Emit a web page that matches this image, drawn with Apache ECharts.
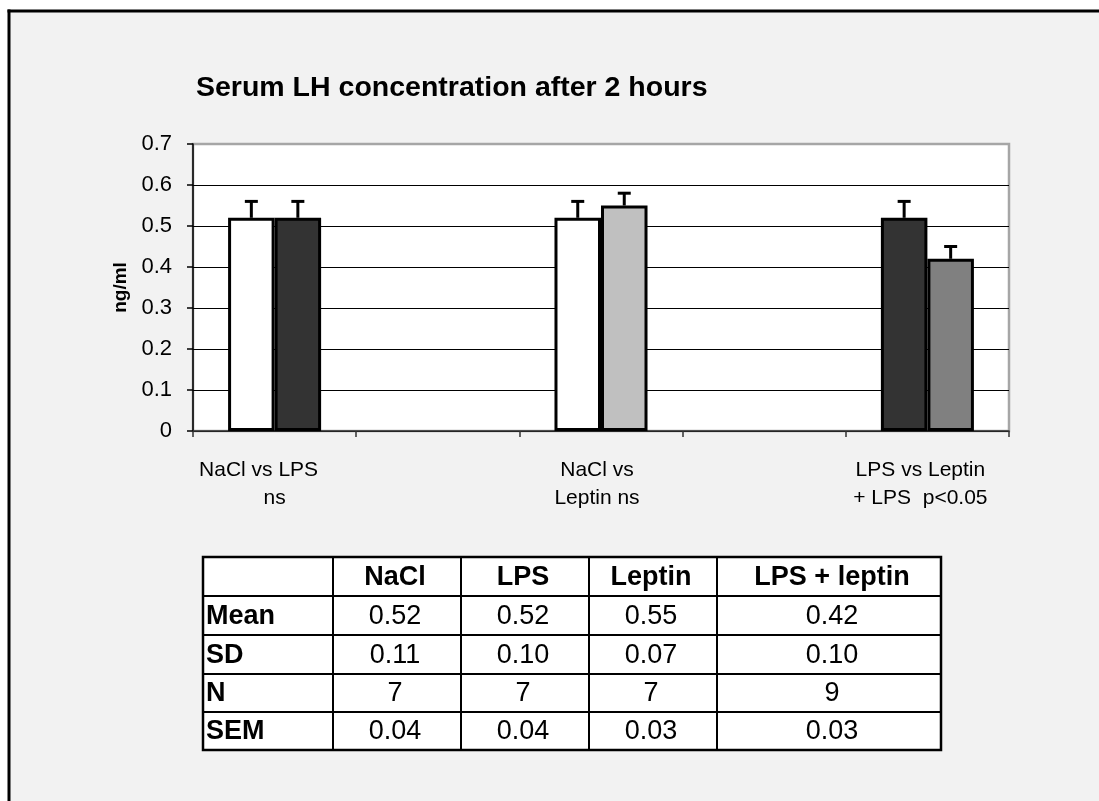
<!DOCTYPE html>
<html>
<head>
<meta charset="utf-8">
<script src="https://cdn.jsdelivr.net/npm/echarts@6/dist/echarts.min.js"></script>
<style>
  html, body { margin: 0; padding: 0; background: #ffffff; overflow: hidden; }
  #chart { width: 1099px; height: 801px; }
</style>
</head>
<body>
<div id="chart"></div>
<script>
// ---- data ----
var titleText = 'Serum LH concentration after 2 hours';
var yAxisName = 'ng/ml';
var categories = ['NaCl vs LPS\nns', '', 'NaCl vs\nLeptin ns', '', 'LPS vs Leptin\n+ LPS  p<0.05'];
var leftMeans  = [0.52, null, 0.52, null, 0.52];
var rightMeans = [0.52, null, 0.55, null, 0.42];
var leftSEM    = [0.04, null, 0.04, null, 0.04];
var rightSEM   = [0.04, null, 0.03, null, 0.03];
var leftColors  = ['#ffffff', null, '#ffffff', null, '#333333'];
var rightColors = ['#333333', null, '#c0c0c0', null, '#808080'];
var yTicks = [0, 0.1, 0.2, 0.3, 0.4, 0.5, 0.6, 0.7];

var tableHeader = ['', 'NaCl', 'LPS', 'Leptin', 'LPS + leptin'];
var tableRowLabels = ['Mean', 'SD', 'N', 'SEM'];
var tableMean = ['0.52', '0.52', '0.55', '0.42'];
var tableSD   = ['0.11', '0.10', '0.07', '0.10'];
var tableN    = ['7', '7', '7', '9'];
var tableSEM  = ['0.04', '0.04', '0.03', '0.03'];
var tableRows = [tableMean, tableSD, tableN, tableSEM];

// ---- layout ----
var FONT = 'Liberation Sans, Arial, sans-serif';
var BAR_W = 0.285;
var colEdges = [203, 333, 461, 589, 717, 941];
var rowEdges = [557, 596, 635, 674, 712, 750];
var colShift = [0, -2, -2, -2, 3];

function barItems(vals, cols) {
  return vals.map(function (v, i) {
    return v == null ? null : { value: v, itemStyle: { color: cols[i] } };
  });
}
function errItems(vals, sems) {
  var out = [];
  vals.forEach(function (v, i) { if (v != null) out.push([i, v, sems[i]]); });
  return out;
}
function errorRender(side) {
  return function (params, api) {
    var idx = api.value(0), m = api.value(1), s = api.value(2);
    var band = api.size([1, 0])[0];
    var off = side * band * BAR_W / 2;
    var p0 = api.coord([idx, m]);
    var p1 = api.coord([idx, m + s]);
    var x = p0[0] + off;
    var st = { stroke: '#000', lineWidth: 3 };
    return {
      type: 'group',
      children: [
        { type: 'line', shape: { x1: x, y1: p0[1], x2: x, y2: p1[1] }, style: st },
        { type: 'line', shape: { x1: x - 6.5, y1: p1[1], x2: x + 6.5, y2: p1[1] }, style: st }
      ]
    };
  };
}

// table graphics
var nCols = colEdges.length - 1, nRows = rowEdges.length - 1;
var tableEls = [];
tableEls.push({ type: 'rect', shape: { x: colEdges[0], y: rowEdges[0], width: colEdges[nCols] - colEdges[0], height: rowEdges[nRows] - rowEdges[0] }, style: { fill: '#fff', stroke: '#000', lineWidth: 2.5 }, z: 10 });
rowEdges.slice(1, -1).forEach(function (y) {
  tableEls.push({ type: 'line', shape: { x1: colEdges[0], y1: y, x2: colEdges[nCols], y2: y }, style: { stroke: '#000', lineWidth: 2 }, z: 11 });
});
colEdges.slice(1, -1).forEach(function (x) {
  tableEls.push({ type: 'line', shape: { x1: x, y1: rowEdges[0], x2: x, y2: rowEdges[nRows] }, style: { stroke: '#000', lineWidth: 2 }, z: 11 });
});
tableHeader.forEach(function (h, c) {
  if (!h) return;
  tableEls.push({ type: 'text', x: (colEdges[c] + colEdges[c + 1]) / 2 + colShift[c], y: (rowEdges[0] + rowEdges[1]) / 2 + 1,
    style: { text: h, fill: '#000', font: 'bold 27px ' + FONT, textAlign: 'center', textVerticalAlign: 'middle' }, z: 12 });
});
tableRowLabels.forEach(function (lab, r) {
  var yc = (rowEdges[r + 1] + rowEdges[r + 2]) / 2 + 1;
  tableEls.push({ type: 'text', x: colEdges[0] + 3, y: yc,
    style: { text: lab, fill: '#000', font: 'bold 27px ' + FONT, textAlign: 'left', textVerticalAlign: 'middle' }, z: 12 });
  tableRows[r].forEach(function (v, c) {
    tableEls.push({ type: 'text', x: (colEdges[c + 1] + colEdges[c + 2]) / 2 + colShift[c + 1], y: yc,
      style: { text: v, fill: '#000', font: '27px ' + FONT, textAlign: 'center', textVerticalAlign: 'middle' }, z: 12 });
  });
});

var chart = echarts.init(document.getElementById('chart'), null, { renderer: 'canvas' });
var option = {
  backgroundColor: '#ffffff',
  animation: false,
  title: {
    text: titleText, left: 191, top: 69,
    textStyle: { fontFamily: FONT, fontSize: 28.5, fontWeight: 'bold', color: '#000' }
  },
  graphic: [
    { type: 'rect', shape: { x: 9, y: 11, width: 1090, height: 790 }, style: { fill: '#f2f2f2' }, z: -10, silent: true },
    { type: 'line', shape: { x1: 7.5, y1: 11, x2: 1099, y2: 11 }, style: { stroke: '#000', lineWidth: 3 }, z: -9, silent: true },
    { type: 'line', shape: { x1: 9, y1: 9.5, x2: 9, y2: 801 }, style: { stroke: '#000', lineWidth: 3 }, z: -9, silent: true }
  ].concat(tableEls),
  grid: {
    left: 193, right: 90, top: 144, bottom: 370,
    show: true, backgroundColor: '#ffffff', borderColor: '#a6a6a6', borderWidth: 2.5
  },
  xAxis: {
    type: 'category', data: categories,
    axisLine: { lineStyle: { color: '#333', width: 1.5 } },
    axisTick: { show: true, interval: 0, length: 6, lineStyle: { color: '#333', width: 1.5 } },
    axisLabel: {
      interval: 0, margin: 25, color: '#000', fontFamily: FONT, fontSize: 21, lineHeight: 28,
      formatter: function (val, idx) {
        if (!val) return '';
        var lines = val.split('\n');
        if (idx === 0) return '{a|' + lines[0] + '}\n{n|' + lines[1] + '}';
        if (idx === 2) return '{m|' + lines[0] + '}\n{m|' + lines[1] + '}';
        return '{r|' + lines[0] + '}\n{r|' + lines[1] + '}';
      },
      rich: {
        a: { fontFamily: FONT, fontSize: 21, lineHeight: 28, color: '#000', padding: [0, 32, 0, 0] },
        n: { fontFamily: FONT, fontSize: 21, lineHeight: 28, color: '#000' },
        m: { fontFamily: FONT, fontSize: 21, lineHeight: 28, color: '#000', padding: [0, 8, 0, 0] },
        r: { fontFamily: FONT, fontSize: 21, lineHeight: 28, color: '#000', padding: [0, 14, 0, 0] }
      }
    },
    splitLine: { show: false }
  },
  yAxis: {
    type: 'value', min: yTicks[0], max: yTicks[yTicks.length - 1], interval: 0.1,
    name: yAxisName, nameLocation: 'middle', nameGap: 30, nameRotate: 90,
    nameTextStyle: { fontFamily: FONT, fontSize: 19, fontWeight: 'bold', color: '#000' },
    axisLine: { show: true, lineStyle: { color: '#000', width: 1.5 } },
    axisTick: { show: true, length: 6, lineStyle: { color: '#000', width: 1.5 } },
    axisLabel: { margin: 21, color: '#000', fontFamily: FONT, fontSize: 22,
      formatter: function (v) { return String(Math.round(v * 10) / 10); } },
    splitLine: { show: true, showMaxLine: false, lineStyle: { color: '#000', width: 1 } }
  },
  series: [
    { type: 'bar', name: 'left', data: barItems(leftMeans, leftColors), barWidth: (BAR_W * 100) + '%', barGap: '0%',
      itemStyle: { borderColor: '#000', borderWidth: 3 }, z: 3 },
    { type: 'bar', name: 'right', data: barItems(rightMeans, rightColors), barWidth: (BAR_W * 100) + '%', barGap: '0%',
      itemStyle: { borderColor: '#000', borderWidth: 3 }, z: 3 },
    { type: 'custom', name: 'errLeft', data: errItems(leftMeans, leftSEM), renderItem: errorRender(-1), z: 4 },
    { type: 'custom', name: 'errRight', data: errItems(rightMeans, rightSEM), renderItem: errorRender(1), z: 4 }
  ]
};
chart.setOption(option);
</script>
</body>
</html>
